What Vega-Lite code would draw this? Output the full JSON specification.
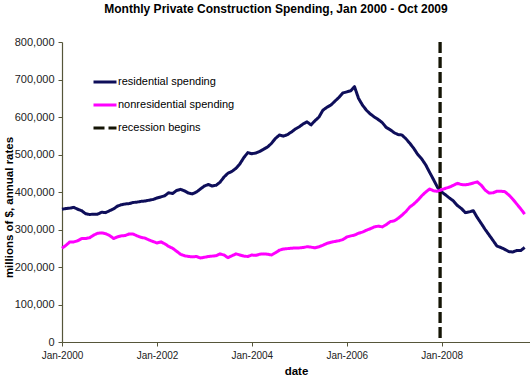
{
"$schema": "https://vega.github.io/schema/vega-lite/v6.json",
"width": 468, "height": 300,
"autosize": {"type": "none"},
"padding": {"left": 62, "top": 42, "right": 0, "bottom": 38},
"background": "white",
"config": {
 "view": {"stroke": null},
 "font": "Liberation Sans",
 "axis": {"domainColor": "#56563a", "tickColor": "#56563a", "labelColor": "#222222", "labelFont": "Liberation Sans", "titleFont": "Liberation Sans", "titleColor": "#000000", "titleFontWeight": "bold", "titleFontSize": 11.5, "grid": false, "tickSize": 4, "domainWidth": 1.2},
 "legend": {"orient": "none", "legendX": 30, "legendY": 27, "symbolType": "stroke", "symbolSize": 529, "symbolStrokeWidth": 3, "labelFontSize": 11, "labelFont": "Liberation Sans", "labelColor": "#000000", "labelOffset": 0, "rowPadding": 4, "padding": 0, "offset": 0}
},
"title": {"text": "Monthly Private Construction Spending, Jan 2000 - Oct 2009", "font": "Liberation Sans", "fontSize": 12, "fontWeight": "bold", "color": "#000000", "anchor": "middle", "frame": "group", "dx": -20, "offset": 20},
"encoding": {
 "x": {"field": "date", "type": "temporal",
  "scale": {"type": "utc", "domain": [{"year": 2000, "month": 1, "date": 1, "utc": true}, {"year": 2009, "month": 11, "date": 11, "utc": true}]},
  "axis": {"title": "date", "values": [{"year": 2000, "month": 1, "date": 1, "utc": true}, {"year": 2002, "month": 1, "date": 1, "utc": true}, {"year": 2004, "month": 1, "date": 1, "utc": true}, {"year": 2006, "month": 1, "date": 1, "utc": true}, {"year": 2008, "month": 1, "date": 1, "utc": true}],
   "format": "%b-%Y", "labelFontSize": 10, "labelPadding": 4, "labelFlush": false, "labelOverlap": false, "titlePadding": 5}},
 "color": {"field": "series", "type": "nominal",
  "scale": {"domain": ["residential spending", "nonresidential spending", "recession begins"], "range": ["#0e0e5a", "#ff00ff", "#141405"]},
  "legend": {"title": null}},
 "strokeDash": {"field": "series", "type": "nominal",
  "scale": {"domain": ["residential spending", "nonresidential spending", "recession begins"], "range": [[1, 0], [1, 0], [11, 4]]},
  "legend": {"title": null}}
},
"layer": [
 {
  "data": {"values": [
{"date":"2000-01","series":"residential spending","value":354000},
{"date":"2000-02","series":"residential spending","value":356000},
{"date":"2000-03","series":"residential spending","value":357000},
{"date":"2000-04","series":"residential spending","value":359000},
{"date":"2000-05","series":"residential spending","value":354000},
{"date":"2000-06","series":"residential spending","value":350000},
{"date":"2000-07","series":"residential spending","value":342000},
{"date":"2000-08","series":"residential spending","value":340000},
{"date":"2000-09","series":"residential spending","value":341000},
{"date":"2000-10","series":"residential spending","value":341000},
{"date":"2000-11","series":"residential spending","value":346000},
{"date":"2000-12","series":"residential spending","value":345000},
{"date":"2001-01","series":"residential spending","value":350000},
{"date":"2001-02","series":"residential spending","value":355000},
{"date":"2001-03","series":"residential spending","value":362000},
{"date":"2001-04","series":"residential spending","value":366000},
{"date":"2001-05","series":"residential spending","value":368000},
{"date":"2001-06","series":"residential spending","value":369000},
{"date":"2001-07","series":"residential spending","value":372000},
{"date":"2001-08","series":"residential spending","value":373000},
{"date":"2001-09","series":"residential spending","value":375000},
{"date":"2001-10","series":"residential spending","value":376000},
{"date":"2001-11","series":"residential spending","value":378000},
{"date":"2001-12","series":"residential spending","value":380000},
{"date":"2002-01","series":"residential spending","value":384000},
{"date":"2002-02","series":"residential spending","value":387000},
{"date":"2002-03","series":"residential spending","value":390000},
{"date":"2002-04","series":"residential spending","value":398000},
{"date":"2002-05","series":"residential spending","value":396000},
{"date":"2002-06","series":"residential spending","value":404000},
{"date":"2002-07","series":"residential spending","value":407000},
{"date":"2002-08","series":"residential spending","value":403000},
{"date":"2002-09","series":"residential spending","value":397000},
{"date":"2002-10","series":"residential spending","value":395000},
{"date":"2002-11","series":"residential spending","value":400000},
{"date":"2002-12","series":"residential spending","value":408000},
{"date":"2003-01","series":"residential spending","value":416000},
{"date":"2003-02","series":"residential spending","value":420000},
{"date":"2003-03","series":"residential spending","value":416000},
{"date":"2003-04","series":"residential spending","value":418000},
{"date":"2003-05","series":"residential spending","value":426000},
{"date":"2003-06","series":"residential spending","value":440000},
{"date":"2003-07","series":"residential spending","value":450000},
{"date":"2003-08","series":"residential spending","value":455000},
{"date":"2003-09","series":"residential spending","value":463000},
{"date":"2003-10","series":"residential spending","value":475000},
{"date":"2003-11","series":"residential spending","value":492000},
{"date":"2003-12","series":"residential spending","value":505000},
{"date":"2004-01","series":"residential spending","value":502000},
{"date":"2004-02","series":"residential spending","value":504000},
{"date":"2004-03","series":"residential spending","value":508000},
{"date":"2004-04","series":"residential spending","value":514000},
{"date":"2004-05","series":"residential spending","value":520000},
{"date":"2004-06","series":"residential spending","value":530000},
{"date":"2004-07","series":"residential spending","value":543000},
{"date":"2004-08","series":"residential spending","value":552000},
{"date":"2004-09","series":"residential spending","value":549000},
{"date":"2004-10","series":"residential spending","value":553000},
{"date":"2004-11","series":"residential spending","value":560000},
{"date":"2004-12","series":"residential spending","value":568000},
{"date":"2005-01","series":"residential spending","value":574000},
{"date":"2005-02","series":"residential spending","value":582000},
{"date":"2005-03","series":"residential spending","value":587000},
{"date":"2005-04","series":"residential spending","value":579000},
{"date":"2005-05","series":"residential spending","value":590000},
{"date":"2005-06","series":"residential spending","value":600000},
{"date":"2005-07","series":"residential spending","value":618000},
{"date":"2005-08","series":"residential spending","value":626000},
{"date":"2005-09","series":"residential spending","value":632000},
{"date":"2005-10","series":"residential spending","value":642000},
{"date":"2005-11","series":"residential spending","value":652000},
{"date":"2005-12","series":"residential spending","value":664000},
{"date":"2006-01","series":"residential spending","value":667000},
{"date":"2006-02","series":"residential spending","value":670000},
{"date":"2006-03","series":"residential spending","value":681000},
{"date":"2006-04","series":"residential spending","value":650000},
{"date":"2006-05","series":"residential spending","value":632000},
{"date":"2006-06","series":"residential spending","value":618000},
{"date":"2006-07","series":"residential spending","value":608000},
{"date":"2006-08","series":"residential spending","value":600000},
{"date":"2006-09","series":"residential spending","value":593000},
{"date":"2006-10","series":"residential spending","value":585000},
{"date":"2006-11","series":"residential spending","value":572000},
{"date":"2006-12","series":"residential spending","value":566000},
{"date":"2007-01","series":"residential spending","value":558000},
{"date":"2007-02","series":"residential spending","value":553000},
{"date":"2007-03","series":"residential spending","value":552000},
{"date":"2007-04","series":"residential spending","value":542000},
{"date":"2007-05","series":"residential spending","value":530000},
{"date":"2007-06","series":"residential spending","value":516000},
{"date":"2007-07","series":"residential spending","value":500000},
{"date":"2007-08","series":"residential spending","value":488000},
{"date":"2007-09","series":"residential spending","value":472000},
{"date":"2007-10","series":"residential spending","value":452000},
{"date":"2007-11","series":"residential spending","value":432000},
{"date":"2007-12","series":"residential spending","value":412000},
{"date":"2008-01","series":"residential spending","value":400000},
{"date":"2008-02","series":"residential spending","value":392000},
{"date":"2008-03","series":"residential spending","value":384000},
{"date":"2008-04","series":"residential spending","value":376000},
{"date":"2008-05","series":"residential spending","value":364000},
{"date":"2008-06","series":"residential spending","value":356000},
{"date":"2008-07","series":"residential spending","value":345000},
{"date":"2008-08","series":"residential spending","value":347000},
{"date":"2008-09","series":"residential spending","value":350000},
{"date":"2008-10","series":"residential spending","value":332000},
{"date":"2008-11","series":"residential spending","value":316000},
{"date":"2008-12","series":"residential spending","value":300000},
{"date":"2009-01","series":"residential spending","value":285000},
{"date":"2009-02","series":"residential spending","value":270000},
{"date":"2009-03","series":"residential spending","value":256000},
{"date":"2009-04","series":"residential spending","value":252000},
{"date":"2009-05","series":"residential spending","value":247000},
{"date":"2009-06","series":"residential spending","value":241000},
{"date":"2009-07","series":"residential spending","value":240000},
{"date":"2009-08","series":"residential spending","value":244000},
{"date":"2009-09","series":"residential spending","value":244000},
{"date":"2009-10","series":"residential spending","value":252000},
{"date":"2000-01","series":"nonresidential spending","value":250000},
{"date":"2000-02","series":"nonresidential spending","value":258000},
{"date":"2000-03","series":"nonresidential spending","value":267000},
{"date":"2000-04","series":"nonresidential spending","value":267000},
{"date":"2000-05","series":"nonresidential spending","value":270000},
{"date":"2000-06","series":"nonresidential spending","value":276000},
{"date":"2000-07","series":"nonresidential spending","value":276000},
{"date":"2000-08","series":"nonresidential spending","value":278000},
{"date":"2000-09","series":"nonresidential spending","value":285000},
{"date":"2000-10","series":"nonresidential spending","value":290000},
{"date":"2000-11","series":"nonresidential spending","value":291000},
{"date":"2000-12","series":"nonresidential spending","value":289000},
{"date":"2001-01","series":"nonresidential spending","value":284000},
{"date":"2001-02","series":"nonresidential spending","value":276000},
{"date":"2001-03","series":"nonresidential spending","value":280000},
{"date":"2001-04","series":"nonresidential spending","value":283000},
{"date":"2001-05","series":"nonresidential spending","value":284000},
{"date":"2001-06","series":"nonresidential spending","value":288000},
{"date":"2001-07","series":"nonresidential spending","value":288000},
{"date":"2001-08","series":"nonresidential spending","value":283000},
{"date":"2001-09","series":"nonresidential spending","value":279000},
{"date":"2001-10","series":"nonresidential spending","value":277000},
{"date":"2001-11","series":"nonresidential spending","value":272000},
{"date":"2001-12","series":"nonresidential spending","value":268000},
{"date":"2002-01","series":"nonresidential spending","value":264000},
{"date":"2002-02","series":"nonresidential spending","value":267000},
{"date":"2002-03","series":"nonresidential spending","value":262000},
{"date":"2002-04","series":"nonresidential spending","value":255000},
{"date":"2002-05","series":"nonresidential spending","value":250000},
{"date":"2002-06","series":"nonresidential spending","value":242000},
{"date":"2002-07","series":"nonresidential spending","value":234000},
{"date":"2002-08","series":"nonresidential spending","value":230000},
{"date":"2002-09","series":"nonresidential spending","value":228000},
{"date":"2002-10","series":"nonresidential spending","value":227000},
{"date":"2002-11","series":"nonresidential spending","value":228000},
{"date":"2002-12","series":"nonresidential spending","value":224000},
{"date":"2003-01","series":"nonresidential spending","value":226000},
{"date":"2003-02","series":"nonresidential spending","value":228000},
{"date":"2003-03","series":"nonresidential spending","value":229000},
{"date":"2003-04","series":"nonresidential spending","value":230000},
{"date":"2003-05","series":"nonresidential spending","value":235000},
{"date":"2003-06","series":"nonresidential spending","value":232000},
{"date":"2003-07","series":"nonresidential spending","value":225000},
{"date":"2003-08","series":"nonresidential spending","value":230000},
{"date":"2003-09","series":"nonresidential spending","value":235000},
{"date":"2003-10","series":"nonresidential spending","value":232000},
{"date":"2003-11","series":"nonresidential spending","value":229000},
{"date":"2003-12","series":"nonresidential spending","value":228000},
{"date":"2004-01","series":"nonresidential spending","value":232000},
{"date":"2004-02","series":"nonresidential spending","value":231000},
{"date":"2004-03","series":"nonresidential spending","value":234000},
{"date":"2004-04","series":"nonresidential spending","value":235000},
{"date":"2004-05","series":"nonresidential spending","value":234000},
{"date":"2004-06","series":"nonresidential spending","value":232000},
{"date":"2004-07","series":"nonresidential spending","value":238000},
{"date":"2004-08","series":"nonresidential spending","value":245000},
{"date":"2004-09","series":"nonresidential spending","value":248000},
{"date":"2004-10","series":"nonresidential spending","value":249000},
{"date":"2004-11","series":"nonresidential spending","value":250000},
{"date":"2004-12","series":"nonresidential spending","value":251000},
{"date":"2005-01","series":"nonresidential spending","value":251000},
{"date":"2005-02","series":"nonresidential spending","value":252000},
{"date":"2005-03","series":"nonresidential spending","value":254000},
{"date":"2005-04","series":"nonresidential spending","value":253000},
{"date":"2005-05","series":"nonresidential spending","value":251000},
{"date":"2005-06","series":"nonresidential spending","value":254000},
{"date":"2005-07","series":"nonresidential spending","value":258000},
{"date":"2005-08","series":"nonresidential spending","value":263000},
{"date":"2005-09","series":"nonresidential spending","value":266000},
{"date":"2005-10","series":"nonresidential spending","value":268000},
{"date":"2005-11","series":"nonresidential spending","value":270000},
{"date":"2005-12","series":"nonresidential spending","value":273000},
{"date":"2006-01","series":"nonresidential spending","value":280000},
{"date":"2006-02","series":"nonresidential spending","value":283000},
{"date":"2006-03","series":"nonresidential spending","value":285000},
{"date":"2006-04","series":"nonresidential spending","value":290000},
{"date":"2006-05","series":"nonresidential spending","value":293000},
{"date":"2006-06","series":"nonresidential spending","value":298000},
{"date":"2006-07","series":"nonresidential spending","value":302000},
{"date":"2006-08","series":"nonresidential spending","value":307000},
{"date":"2006-09","series":"nonresidential spending","value":309000},
{"date":"2006-10","series":"nonresidential spending","value":307000},
{"date":"2006-11","series":"nonresidential spending","value":313000},
{"date":"2006-12","series":"nonresidential spending","value":321000},
{"date":"2007-01","series":"nonresidential spending","value":323000},
{"date":"2007-02","series":"nonresidential spending","value":330000},
{"date":"2007-03","series":"nonresidential spending","value":338000},
{"date":"2007-04","series":"nonresidential spending","value":348000},
{"date":"2007-05","series":"nonresidential spending","value":360000},
{"date":"2007-06","series":"nonresidential spending","value":368000},
{"date":"2007-07","series":"nonresidential spending","value":378000},
{"date":"2007-08","series":"nonresidential spending","value":390000},
{"date":"2007-09","series":"nonresidential spending","value":400000},
{"date":"2007-10","series":"nonresidential spending","value":408000},
{"date":"2007-11","series":"nonresidential spending","value":403000},
{"date":"2007-12","series":"nonresidential spending","value":402000},
{"date":"2008-01","series":"nonresidential spending","value":406000},
{"date":"2008-02","series":"nonresidential spending","value":410000},
{"date":"2008-03","series":"nonresidential spending","value":413000},
{"date":"2008-04","series":"nonresidential spending","value":418000},
{"date":"2008-05","series":"nonresidential spending","value":423000},
{"date":"2008-06","series":"nonresidential spending","value":420000},
{"date":"2008-07","series":"nonresidential spending","value":419000},
{"date":"2008-08","series":"nonresidential spending","value":421000},
{"date":"2008-09","series":"nonresidential spending","value":424000},
{"date":"2008-10","series":"nonresidential spending","value":427000},
{"date":"2008-11","series":"nonresidential spending","value":418000},
{"date":"2008-12","series":"nonresidential spending","value":405000},
{"date":"2009-01","series":"nonresidential spending","value":397000},
{"date":"2009-02","series":"nonresidential spending","value":398000},
{"date":"2009-03","series":"nonresidential spending","value":402000},
{"date":"2009-04","series":"nonresidential spending","value":402000},
{"date":"2009-05","series":"nonresidential spending","value":401000},
{"date":"2009-06","series":"nonresidential spending","value":392000},
{"date":"2009-07","series":"nonresidential spending","value":381000},
{"date":"2009-08","series":"nonresidential spending","value":368000},
{"date":"2009-09","series":"nonresidential spending","value":355000},
{"date":"2009-10","series":"nonresidential spending","value":341000}
  ]},
  "mark": {"type": "line", "strokeWidth": 3, "strokeJoin": "round"},
  "encoding": {
   "y": {"field": "value", "type": "quantitative",
    "scale": {"domain": [0, 800000], "nice": false},
    "axis": {"title": "millions of $, annual rates", "values": [0, 100000, 200000, 300000, 400000, 500000, 600000, 700000, 800000], "format": ",.0f", "labelFontSize": 11, "labelPadding": 4, "titleAngle": -90, "titleX": -53, "titleY": 165, "titleAlign": "center", "titleBaseline": "middle"}}
  }
 },
 {
  "data": {"values": [{"date": "2007-12-20", "series": "recession begins"}]},
  "mark": {"type": "rule", "strokeWidth": 3.3},
  "encoding": {}
 }
]
}
